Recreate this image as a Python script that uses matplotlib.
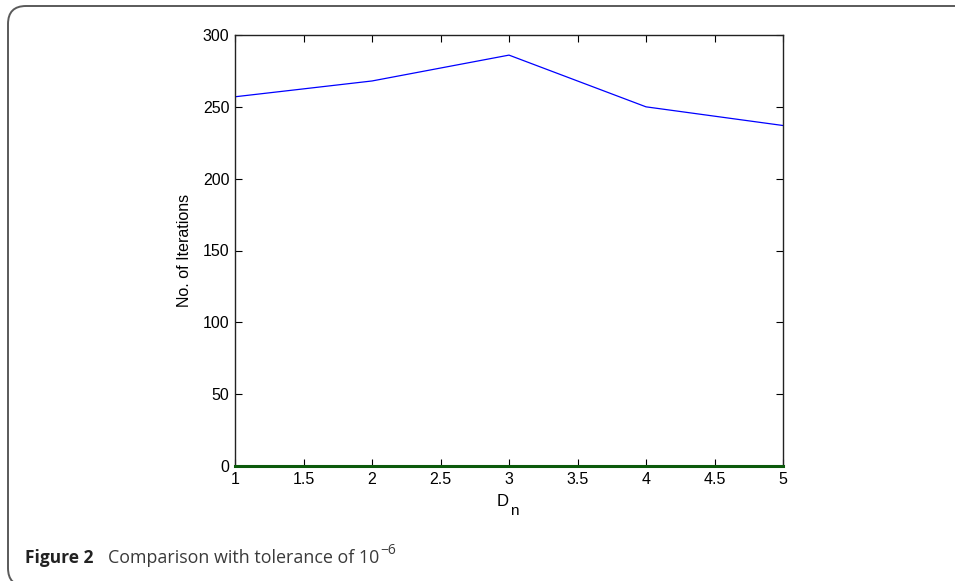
import matplotlib
matplotlib.use('Agg')
from matplotlib import pyplot as plt
from matplotlib.patches import FancyBboxPatch
import numpy as np

# data
dn = [1, 2, 3, 4, 5]
iterations = [257, 268, 286, 250, 237]
iterations_tol = [0, 0, 0, 0, 0]
xticks = [1, 1.5, 2, 2.5, 3, 3.5, 4, 4.5, 5]
yticks = [0, 50, 100, 150, 200, 250, 300]

plt.rcParams['font.family'] = ['Liberation Sans', 'DejaVu Sans']

W, H = 955, 581
fig = plt.figure(figsize=(W / 100, H / 100), dpi=100)
fig.patch.set_facecolor('white')

# rounded frame round the figure, drawn in a pixel-sized background axes
bg = fig.add_axes([0, 0, 1, 1], zorder=-1)
bg.set_xlim(0, W)
bg.set_ylim(0, H)
bg.axis('off')
frame = FancyBboxPatch((8, -5), W + 40, H - 6 + 5,
                       boxstyle='round,pad=0,rounding_size=18',
                       fill=False, edgecolor='#5a5a5a', linewidth=1.4,
                       clip_on=False)
bg.add_patch(frame)

ax = fig.add_axes([235 / W, 1 - 466 / H, 548 / W, 431 / H])
ax.plot(dn, iterations, color='#0000ff', linewidth=0.9)
ax.plot(dn, iterations_tol, color='#0b5a0b', linewidth=2.2, clip_on=False, zorder=5)

ax.set_xlim(1, 5)
ax.set_ylim(0, 300)
ax.set_xticks(xticks)
ax.set_xticklabels([('%g' % t) for t in xticks])
ax.set_yticks(yticks)
ax.tick_params(direction='in', length=5, width=0.8, top=True, right=True,
               labelsize=11.5, pad=4, colors='black')
for s in ax.spines.values():
    s.set_linewidth(1.0)
    s.set_color('#222222')

ax.set_ylabel('No. of Iterations', fontsize=11.5, labelpad=8)
# x label D with subscript n
fig.text(509 / W, 1 - 506 / H, 'D', fontsize=12, ha='right', va='baseline')
fig.text(510 / W, 1 - 515 / H, 'n', fontsize=11, ha='left', va='baseline')

# caption
cap_font = ['Open Sans', 'DejaVu Sans']
t1 = fig.text(25 / W, 1 - 563 / H, 'Figure 2', fontsize=12.5, fontweight='bold',
              family=cap_font, color='#222222', va='baseline')
t2 = fig.text(0, 0, 'Comparison with tolerance of 10', fontsize=12.9,
              family=cap_font, color='#3a3a3a', va='baseline')
fig.canvas.draw()
bb = t1.get_window_extent()
t2.set_position(((bb.x1 + 15) / W, 1 - 563 / H))
fig.canvas.draw()
bb2 = t2.get_window_extent()
fig.text((bb2.x1 + 1) / W, 1 - 554 / H, '\u22126', fontsize=10,
         family=cap_font, color='#3a3a3a', va='baseline')

plt.savefig('out.png', dpi=100)
